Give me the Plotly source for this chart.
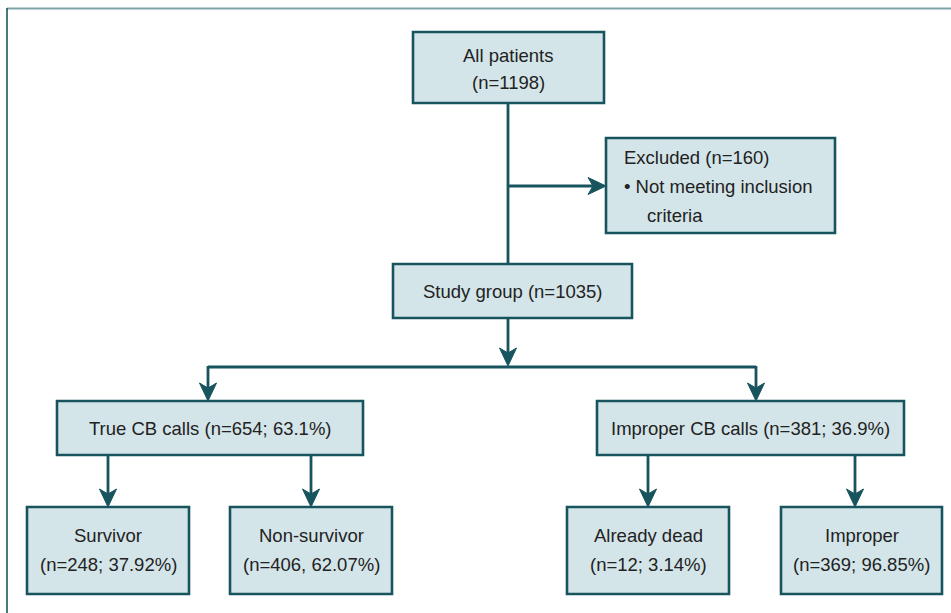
import plotly.graph_objects as go

# ---- data (text content) ----
top_title = "All patients"
top_n = 1198
excluded_n = 160
excluded_reason = ["• Not meeting inclusion", "criteria"]
study_n = 1035
group_names = ["True CB calls", "Improper CB calls"]
group_n = [654, 381]
group_pct = ["63.1%", "36.9%"]
leaf_names = ["Survivor", "Non-survivor", "Already dead", "Improper"]
leaf_n = [248, 406, 12, 369]
leaf_pct = ["37.92%", "62.07%", "3.14%", "96.85%"]
leaf_sep = [";", ",", ";", ";"]

# ---- layout (pixel geometry of the diagram) ----
W, H = 951, 613
FILL = "#d4e5e9"
EDGE = "#17545e"
LINE = "#17545e"
TXT = "#222222"
FONT = "Liberation Sans, Arial, sans-serif"
FS = 18.5

boxes = {
    "all": (413, 32, 604, 103),
    "exc": (606, 138, 835, 233),
    "study": (393, 264, 632, 318),
    "g0": (57, 401, 363, 455),
    "g1": (597, 401, 904, 455),
    "l0": (27, 507, 189, 594),
    "l1": (230, 507, 392, 594),
    "l2": (567, 507, 729, 594),
    "l3": (781, 507, 942, 594),
}

fig = go.Figure()
shapes = []
annos = []

def seg(x0, y0, x1, y1, color=LINE, w=2.8):
    shapes.append(dict(type="line", x0=x0, y0=y0, x1=x1, y1=y1,
                       line=dict(color=color, width=w), layer="above"))

def head(x, y, direction):
    L, hw, notch = 18, 8.5, 5
    if direction == "down":
        p = f"M{x},{y} L{x-hw},{y-L} L{x},{y-L+notch} L{x+hw},{y-L} Z"
    else:  # right
        p = f"M{x},{y} L{x-L},{y-hw} L{x-L+notch},{y} L{x-L},{y+hw} Z"
    shapes.append(dict(type="path", path=p, fillcolor=LINE,
                       line=dict(color=LINE, width=1), layer="above"))

def arrow_down(x, y0, y1):
    seg(x, y0, x, y1 - 8)
    head(x, y1, "down")

# frame
seg(7, 8.5, W, 8.5, color="#7ea3a8", w=2.2)
seg(7, 8, 7, H, color="#1d5660", w=1.6)

# boxes
for k, (x0, y0, x1, y1) in boxes.items():
    shapes.append(dict(type="rect", x0=x0, y0=y0, x1=x1, y1=y1,
                       fillcolor=FILL, line=dict(color=EDGE, width=2.6),
                       layer="below"))

# connectors
cx = 508
seg(cx, 103, cx, 264)
seg(cx, 186, 598, 186)
head(606, 186, "right")
arrow_down(cx, 318, 366)
seg(208, 367, 756, 367)
seg(208, 366, 208, 392)
head(208, 401, "down")
seg(756, 366, 756, 392)
head(756, 401, "down")
for x in (108, 311):
    arrow_down(x, 455, 507)
for x in (648, 855):
    arrow_down(x, 455, 507)

def text(x, y, s, anchor="center"):
    annos.append(dict(x=x, y=y, text=s, showarrow=False, xanchor=anchor,
                      yanchor="middle", font=dict(family=FONT, size=FS, color=TXT)))

text(508, 55, top_title)
text(508, 82, f"(n={top_n})")
text(622, 157, f"Excluded (n={excluded_n})", "left")
text(622, 186, excluded_reason[0], "left")
text(645, 215, excluded_reason[1], "left")
text(512.5, 291, f"Study group (n={study_n})")
for i, k in enumerate(["g0", "g1"]):
    x0, y0, x1, y1 = boxes[k]
    text((x0 + x1) / 2, 428, f"{group_names[i]} (n={group_n[i]}; {group_pct[i]})")
for i, k in enumerate(["l0", "l1", "l2", "l3"]):
    x0, y0, x1, y1 = boxes[k]
    xm = (x0 + x1) / 2
    text(xm, 535, leaf_names[i])
    text(xm, 564, f"(n={leaf_n[i]}{leaf_sep[i]} {leaf_pct[i]})")

fig.update_layout(
    width=W, height=H, margin=dict(l=0, r=0, t=0, b=0),
    paper_bgcolor="white", plot_bgcolor="white",
    xaxis=dict(range=[0, W], visible=False, fixedrange=True),
    yaxis=dict(range=[H, 0], visible=False, fixedrange=True),
    shapes=shapes, annotations=annos, showlegend=False,
)
fig.write_html("out.html", config={"displayModeBar": False},
               post_script="document.body.style.margin='0';")
